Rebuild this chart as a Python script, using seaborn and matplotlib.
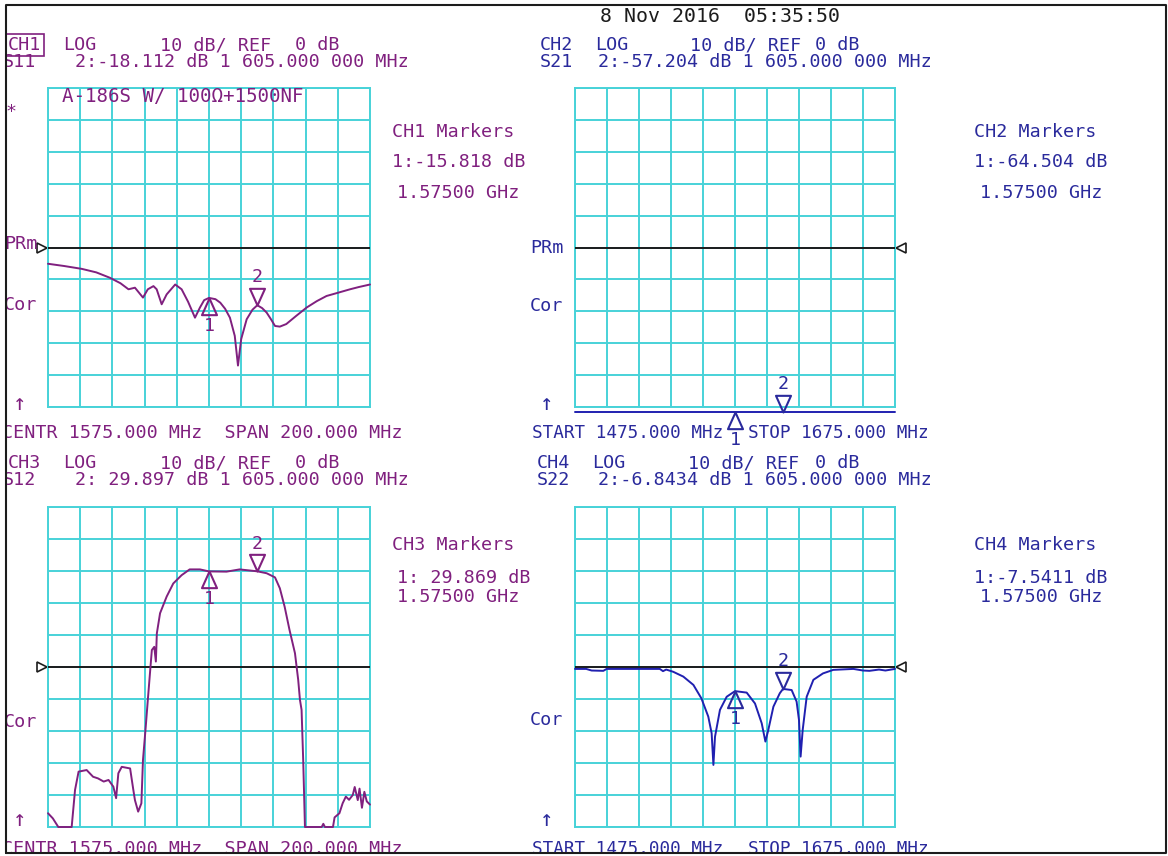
import numpy as np
import pandas as pd
import matplotlib
matplotlib.use('Agg')
import matplotlib.pyplot as plt
import seaborn as sns
from matplotlib.patches import Rectangle
from matplotlib.lines import Line2D
from matplotlib.path import Path

# ---- data ----
f_s11 = [1475, 1485, 1496, 1505, 1513.5, 1520, 1525, 1529, 1534, 1537, 1540.5, 1542.5, 1545.6, 1548.7, 1554,
         1558, 1562, 1566.3, 1569.4, 1572, 1575, 1579, 1582, 1585, 1588, 1591, 1593, 1595, 1598.4, 1602,
         1605, 1608, 1610.8, 1613.5, 1616, 1619, 1623, 1629, 1635.7, 1642, 1648, 1655, 1662.6, 1668, 1675]
db_s11 = [-5.1, -5.8, -6.7, -7.8, -9.5, -11.2, -13.1, -12.6, -15.7, -13.1, -12.1, -13.1, -17.8, -14.7, -11.6,
          -13.1, -17, -22, -18.8, -16.5, -15.8, -16.2, -17.3, -19.2, -22, -27.7, -37, -28.7, -22.5, -19.5,
          -18.1, -19.0, -20.4, -22.5, -24.6, -24.8, -24, -21.5, -18.8, -16.8, -15.2, -14.2, -13.1, -12.4, -11.6]

f_s21 = [1475, 1525, 1575, 1605, 1640, 1675]
db_s21 = [-62, -63, -64.5, -57.2, -60, -61]

f_s12 = [1475, 1478, 1481.4, 1485, 1489.7, 1491.8, 1494, 1499, 1503, 1506, 1509.6, 1512.6, 1515.6, 1517.3,
         1518.7, 1520.8, 1526, 1528, 1529, 1531, 1533, 1534, 1535.7, 1537, 1538.5, 1539.5, 1541, 1542,
         1542.6, 1544.6, 1548.7, 1552.8, 1558, 1563, 1569.4, 1575, 1585.9, 1594, 1605, 1610.8, 1616, 1619,
         1622, 1625, 1628.4, 1630.4, 1631.5, 1632.5, 1633.5, 1634.6, 1645, 1646, 1647, 1652, 1653, 1656,
         1658, 1660, 1662, 1664.3, 1665.5, 1667.4, 1668.5, 1670, 1671.5, 1673, 1675]
db_s12 = [-45.7, -47.3, -50, -50, -50, -38.4, -32.7, -32.2, -34.3, -34.8, -35.8, -35.3, -37.4, -41,
          -33.2, -31.2, -31.7, -38.4, -41.6, -45.2, -42.6, -29, -18.7, -10.3, -0.9, 5.3, 6.3, 1.7,
          10.5, 16.8, 22, 26.1, 28.7, 30.5, 30.5, 29.87, 29.8, 30.5, 29.9, 29.3, 28, 24.6,
          18.8, 11.6, 4.3, -4, -10.3, -13.4, -29, -50, -50, -49, -50, -50, -47, -45.7,
          -42.6, -40.5, -41.5, -40, -37.5, -41.6, -38, -44, -39, -42, -43]

f_s22 = [1475, 1482, 1485.4, 1492.7, 1494.8, 1528, 1530, 1532, 1536.4, 1542.7, 1549, 1554, 1558.3, 1560.4,
         1561.5, 1562.5, 1565.6, 1569.8, 1575, 1582.3, 1587.5, 1591.7, 1594, 1595.8, 1599, 1603, 1605,
         1610.4, 1613.5, 1615, 1616, 1617.3, 1619.8, 1624, 1630, 1636.4, 1649, 1655, 1659, 1665, 1669, 1675]
db_s22 = [-0.6, -0.6, -1.1, -1.2, -0.6, -0.6, -1.3, -0.8, -1.5, -3, -5.6, -9.8, -15.5, -20.7,
          -30.6, -21.8, -13.4, -9.3, -7.54, -8, -11.4, -17.6, -23.3, -19.7, -12.4, -8.2, -6.84,
          -7.2, -10.8, -16.6, -28, -19.7, -9.3, -4, -2, -0.9, -0.6, -1.1, -1.2, -0.8, -1.1, -0.6]

marker_freqs = [1575, 1605]
markers_s11 = [-15.818, -18.112]
markers_s21 = [-64.504, -57.204]
markers_s12 = [29.869, 29.897]
markers_s22 = [-7.5411, -6.8434]

W, H = 1168, 856
PURPLE = '#80207f'
BLUE = '#2a2a9c'
TRACE_BLUE = '#2020b0'
CYAN = '#48d2d8'
BLACK = '#1c1c1c'
FLOOR = -51.5  # screen bottom, off-scale values drawn here

sns.set_style('white')
plt.rcParams['font.family'] = ['DejaVu Sans Mono', 'DejaVu Sans']

fig = plt.figure(figsize=(W / 100, H / 100), dpi=100)

UP = Path([(0, 0), (-0.45, -1), (0.45, -1), (0, 0)],
          [Path.MOVETO, Path.LINETO, Path.LINETO, Path.CLOSEPOLY])
DOWN = Path([(0, 0), (-0.45, 1), (0.45, 1), (0, 0)],
            [Path.MOVETO, Path.LINETO, Path.LINETO, Path.CLOSEPOLY])


def px_axes(l, t, r, b):
    return fig.add_axes([l / W, 1 - b / H, (r - l) / W, (b - t) / H])


def ptext(x, y, s, color, size=13.2, **kw):
    fig.text(x / W, 1 - y / H, s, color=color, fontsize=size, ha='left', va='center', **kw)


def screen(ax, freq, db, color, mvals, mcolor, ref_side):
    df = pd.DataFrame({'freq': freq, 'dB': np.clip(db, FLOOR, None)})
    sns.lineplot(data=df, x='freq', y='dB', ax=ax, color=color, lw=1.4,
                 estimator=None, sort=False, clip_on=False, zorder=4)
    ax.set_xlim(1475, 1675)
    ax.set_ylim(-50, 50)
    ax.set_xticks(np.linspace(1475, 1675, 11))
    ax.set_yticks(np.arange(-50, 51, 10))
    ax.grid(True, color=CYAN, lw=1.4)
    ax.tick_params(length=0, labelbottom=False, labelleft=False)
    for s in ax.spines.values():
        s.set_color(CYAN)
        s.set_linewidth(1.4)
    ax.set_xlabel('')
    ax.set_ylabel('')
    ax.axhline(0, color=BLACK, lw=1.4, zorder=3)
    # reference position pointer
    if ref_side == 'left':
        ax.plot([-0.019], [0], marker='>', ms=7, mfc='white', mec=BLACK, mew=1.2,
                transform=ax.get_yaxis_transform(), clip_on=False)
    else:
        ax.plot([1.019], [0], marker='<', ms=7, mfc='white', mec=BLACK, mew=1.2,
                transform=ax.get_yaxis_transform(), clip_on=False)
    # markers 1 and 2
    for i, (f, v) in enumerate(zip(marker_freqs, mvals)):
        v = max(v, FLOOR)
        up = i == 0
        ax.plot([f], [v], marker=UP if up else DOWN, ms=24, mfc='none', mec=mcolor,
                mew=1.5, clip_on=False, zorder=5)
        ax.annotate(str(i + 1), (f, v), xytext=(0, -20 if up else 20), textcoords='offset points',
                    ha='center', va='center', color=mcolor, fontsize=13.2, annotation_clip=False)


ax1 = px_axes(48, 88, 370, 407)
ax2 = px_axes(575, 88, 895, 407)
ax3 = px_axes(48, 507, 370, 827)
ax4 = px_axes(575, 507, 895, 827)

screen(ax1, f_s11, db_s11, PURPLE, markers_s11, PURPLE, 'left')
screen(ax2, f_s21, db_s21, TRACE_BLUE, markers_s21, BLUE, 'right')
screen(ax3, f_s12, db_s12, PURPLE, markers_s12, PURPLE, 'left')
screen(ax4, f_s22, db_s22, TRACE_BLUE, markers_s22, BLUE, 'right')

# ---- screen annotations ----
ptext(600, 16, '8 Nov 2016  05:35:50', BLACK, size=14.3)

# CH1
ptext(8, 45, 'CH1', PURPLE, bbox=dict(boxstyle='square,pad=0.12', fc='none', ec=PURPLE, lw=1.2))
ptext(63, 45, 'LOG', PURPLE)
ptext(160, 45, '10 dB/ REF', PURPLE)
ptext(295, 45, '0 dB', PURPLE)
ptext(3, 62, 'S11', PURPLE)
ptext(75, 62, '2:-18.112 dB 1 605.000 000 MHz', PURPLE)
ptext(62, 97, 'A-186S W/ 100Ω+1500NF', PURPLE, size=13.8)
ptext(6, 112, '*', PURPLE)
ptext(392, 132, 'CH1 Markers', PURPLE)
ptext(392, 162, '1:-15.818 dB', PURPLE)
ptext(397, 193, '1.57500 GHz', PURPLE)
ptext(4, 244, 'PRm', PURPLE)
ptext(4, 305, 'Cor', PURPLE)
ptext(13, 404, '↑', PURPLE, size=16)
ptext(2, 433, 'CENTR 1575.000 MHz  SPAN 200.000 MHz', PURPLE)

# CH2
ptext(540, 45, 'CH2', BLUE)
ptext(595, 45, 'LOG', BLUE)
ptext(690, 45, '10 dB/ REF', BLUE)
ptext(815, 45, '0 dB', BLUE)
ptext(540, 62, 'S21', BLUE)
ptext(598, 62, '2:-57.204 dB 1 605.000 000 MHz', BLUE)
ptext(974, 132, 'CH2 Markers', BLUE)
ptext(974, 162, '1:-64.504 dB', BLUE)
ptext(980, 193, '1.57500 GHz', BLUE)
ptext(530, 248, 'PRm', BLUE)
ptext(530, 306, 'Cor', BLUE)
ptext(540, 404, '↑', BLUE, size=16)
ptext(532, 433, 'START 1475.000 MHz', BLUE, size=12.7)
ptext(748, 433, 'STOP 1675.000 MHz', BLUE, size=12.7)

# CH3
ptext(8, 463, 'CH3', PURPLE)
ptext(63, 463, 'LOG', PURPLE)
ptext(160, 463, '10 dB/ REF', PURPLE)
ptext(295, 463, '0 dB', PURPLE)
ptext(3, 480, 'S12', PURPLE)
ptext(75, 480, '2: 29.897 dB 1 605.000 000 MHz', PURPLE)
ptext(392, 545, 'CH3 Markers', PURPLE)
ptext(397, 578, '1: 29.869 dB', PURPLE)
ptext(397, 597, '1.57500 GHz', PURPLE)
ptext(4, 722, 'Cor', PURPLE)
ptext(13, 820, '↑', PURPLE, size=16)
ptext(2, 849, 'CENTR 1575.000 MHz  SPAN 200.000 MHz', PURPLE)

# CH4
ptext(537, 463, 'CH4', BLUE)
ptext(592, 463, 'LOG', BLUE)
ptext(688, 463, '10 dB/ REF', BLUE)
ptext(815, 463, '0 dB', BLUE)
ptext(537, 480, 'S22', BLUE)
ptext(598, 480, '2:-6.8434 dB 1 605.000 000 MHz', BLUE)
ptext(974, 545, 'CH4 Markers', BLUE)
ptext(974, 578, '1:-7.5411 dB', BLUE)
ptext(980, 597, '1.57500 GHz', BLUE)
ptext(530, 720, 'Cor', BLUE)
ptext(540, 820, '↑', BLUE, size=16)
ptext(532, 849, 'START 1475.000 MHz', BLUE, size=12.7)
ptext(748, 849, 'STOP 1675.000 MHz', BLUE, size=12.7)

# outer frame of the screen capture
fig.add_artist(Rectangle((0, 0), 5.5 / W, 1, transform=fig.transFigure, fc='white', ec='none', zorder=20))
fig.add_artist(Rectangle((0, 0), 1, 3.5 / H, transform=fig.transFigure, fc='white', ec='none', zorder=20))
frame_x = [6 / W, 6 / W, 1166 / W, 1166 / W, 6 / W]
frame_y = [1 - 853 / H, 1 - 5 / H, 1 - 5 / H, 1 - 853 / H, 1 - 853 / H]
fig.add_artist(Line2D(frame_x, frame_y, transform=fig.transFigure, color=BLACK, lw=1.5, zorder=21))

fig.savefig('out.png', dpi=100)
